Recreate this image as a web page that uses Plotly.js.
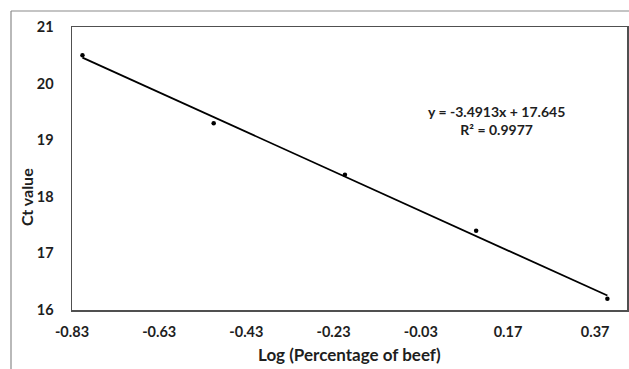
<!DOCTYPE html>
<html>
<head>
<meta charset="utf-8">
<script src="https://cdn.plot.ly/plotly-3.0.1.min.js"></script>
<style>
  html, body { margin: 0; padding: 0; background: #ffffff; }
  #chart { width: 629px; height: 369px; }
</style>
</head>
<body>
<div id="chart"></div>
<script>
// Standard curve: Ct value against log of beef percentage
const logPercent = [-0.806, -0.505, -0.204, 0.097, 0.398];
const ctValue = [20.50, 19.30, 18.39, 17.40, 16.20];

// Linear trendline as stated in the equation label
const slope = -3.4913;
const intercept = 17.645;
const rSquared = 0.9977;

const xTicks = [-0.83, -0.63, -0.43, -0.23, -0.03, 0.17, 0.37];
const xTickText = ['-0.83', '-0.63', '-0.43', '-0.23', '-0.03', '0.17', '0.37'];
const yTicks = [16, 17, 18, 19, 20, 21];

const fontFamily = 'Lato, "Open Sans", sans-serif';
const ink = '#1e1e1e';

const xMin = Math.min(...logPercent);
const xMax = Math.max(...logPercent);
const trendX = [xMin, xMax];
const trendY = trendX.map(x => slope * x + intercept);

const traces = [
  {
    x: trendX,
    y: trendY,
    mode: 'lines',
    line: { color: '#000000', width: 1.8 },
    hoverinfo: 'skip',
    showlegend: false
  },
  {
    x: logPercent,
    y: ctValue,
    mode: 'markers',
    marker: { color: '#000000', size: 4.5 },
    showlegend: false
  }
];

const fmt = (v, d) => (v < 0 ? '-' : '') + Math.abs(v).toFixed(d);
const eqText = 'y = ' + fmt(slope, 4) + 'x + ' + intercept.toFixed(3) +
  '<br>R² = ' + rSquared.toFixed(4);

const layout = {
  width: 629,
  height: 369,
  margin: { l: 72, r: 2, t: 27, b: 59 },
  paper_bgcolor: '#ffffff',
  plot_bgcolor: '#ffffff',
  font: { family: fontFamily, color: ink },
  xaxis: {
    range: [-0.83, 0.443],
    tickvals: xTicks,
    ticktext: xTickText,
    ticks: '',
    ticklabelstandoff: 8,
    tickfont: { size: 14.5, weight: 'bold', color: ink },
    showgrid: false,
    zeroline: false,
    showline: true,
    mirror: true,
    linecolor: '#505050',
    linewidth: 1.5,
    title: { text: '' }
  },
  yaxis: {
    range: [16, 21],
    tickvals: yTicks,
    ticks: '',
    ticklabelstandoff: 14,
    tickfont: { size: 14.5, weight: 'bold', color: ink },
    showgrid: false,
    zeroline: false,
    showline: true,
    mirror: true,
    linecolor: '#505050',
    linewidth: 1.5,
    title: { text: '' }
  },
  annotations: [
    {
      text: eqText,
      xref: 'paper', yref: 'paper',
      x: (496 - 72) / 555, y: 1 - (121 - 27) / 283,
      xanchor: 'center', yanchor: 'middle',
      align: 'center',
      showarrow: false,
      font: { size: 14, weight: 'bold', color: ink }
    },
    {
      text: 'Log (Percentage of beef)',
      xref: 'paper', yref: 'paper',
      x: 0.5, y: 1 - (354 - 27) / 283,
      xanchor: 'center', yanchor: 'middle',
      showarrow: false,
      font: { size: 17, weight: 'bold', color: ink }
    },
    {
      text: 'Ct value',
      xref: 'paper', yref: 'paper',
      x: (26 - 72) / 555, y: 1 - (197 - 27) / 283,
      xanchor: 'center', yanchor: 'middle',
      textangle: -90,
      showarrow: false,
      font: { size: 16, weight: 'bold', color: ink }
    }
  ],
  shapes: [
    // outer frame: left and top edges
    {
      type: 'line', xref: 'paper', yref: 'paper',
      x0: (11 - 72) / 555, x1: (11 - 72) / 555,
      y0: 1 - (11 - 27) / 283, y1: 1 - (369 - 27) / 283,
      line: { color: '#8a8a8a', width: 1.2 }
    },
    {
      type: 'line', xref: 'paper', yref: 'paper',
      x0: (11 - 72) / 555, x1: (629 - 72) / 555,
      y0: 1 - (11 - 27) / 283, y1: 1 - (11 - 27) / 283,
      line: { color: '#8a8a8a', width: 1.2 }
    }
  ]
};

Plotly.newPlot('chart', traces, layout, { displayModeBar: false, staticPlot: true });
</script>
</body>
</html>
